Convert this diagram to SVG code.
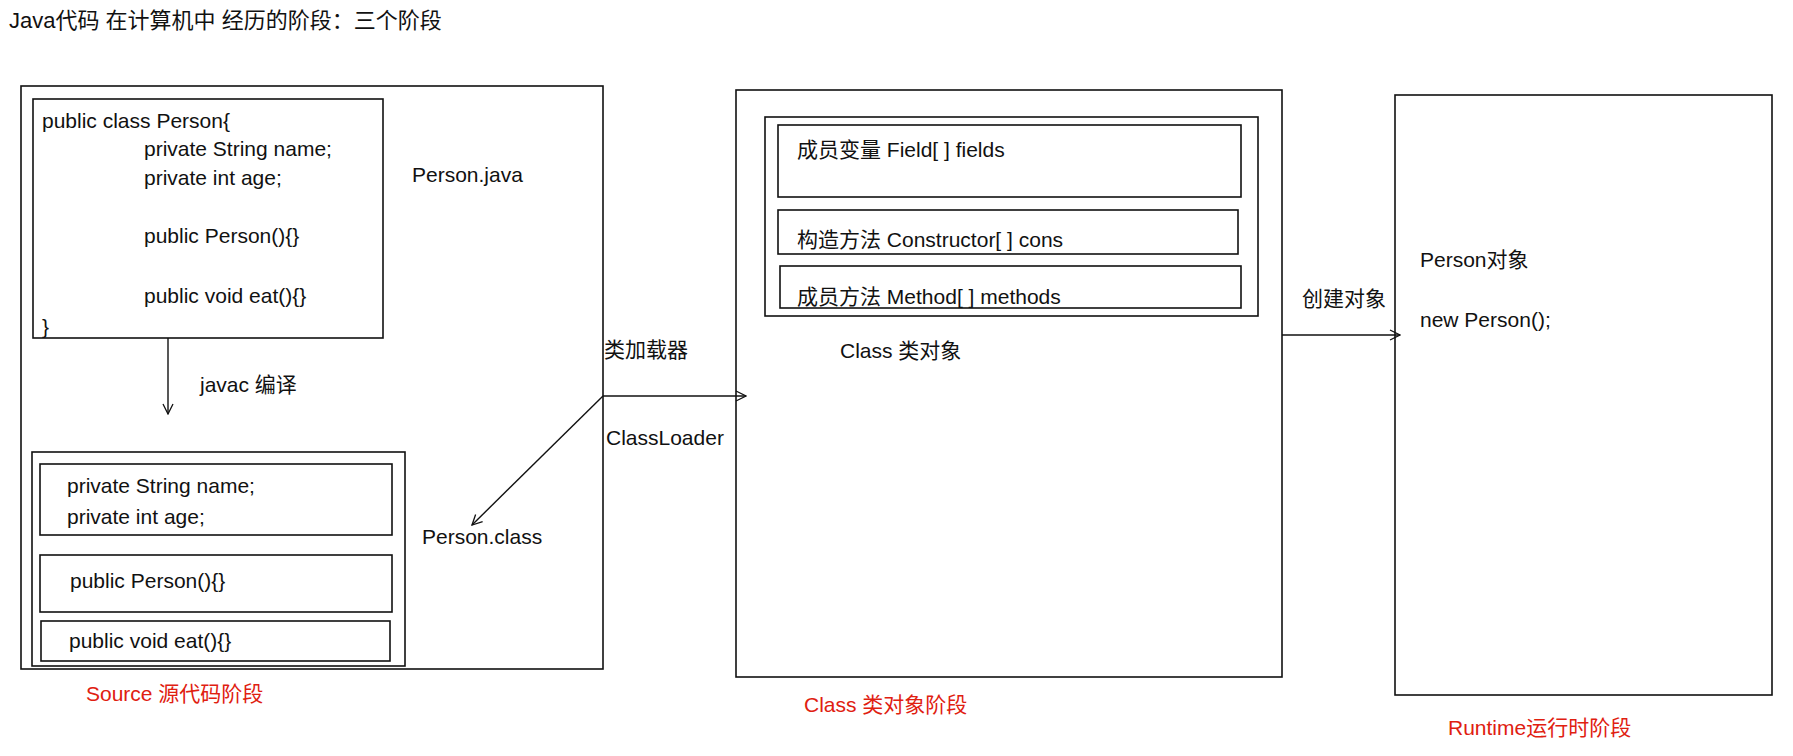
<svg xmlns="http://www.w3.org/2000/svg" width="1793" height="756" viewBox="0 0 1793 756">
<defs>
<style>
text{font-family:"Liberation Sans","Noto Sans CJK SC",sans-serif;font-size:21px;fill:#111}
.red{fill:#e02010}
.box{fill:none;stroke:#111;stroke-width:1.6}
.line{fill:none;stroke:#111;stroke-width:1.4}
</style>
<marker id="open" viewBox="0 0 12 12" refX="11" refY="6" markerWidth="12" markerHeight="12" markerUnits="userSpaceOnUse" orient="auto">
<path d="M1,1 L11,6 L1,11" fill="none" stroke="#111" stroke-width="1.3"/>
</marker>
</defs>
<rect width="1793" height="756" fill="#fff"/>
<text x="9" y="28" style="font-size:22px">Java代码 在计算机中 经历的阶段：三个阶段</text>

<g id="source">
<rect class="box" x="21" y="86" width="582" height="583"/>
<text class="red" x="86" y="701">Source 源代码阶段</text>
</g>
<g id="person-java">
<rect class="box" x="33" y="99" width="350" height="239"/>
<text x="42" y="128">public class Person{</text>
<text x="144" y="156">private String name;</text>
<text x="144" y="185">private int age;</text>
<text x="144" y="243">public Person(){}</text>
<text x="144" y="303">public void eat(){}</text>
<text x="42" y="334">}</text>
<text x="412" y="182">Person.java</text>
</g>
<g id="person-class">
<rect class="box" x="32" y="452" width="373" height="214"/>
<rect class="box" x="40" y="464" width="352" height="71"/>
<text x="67" y="493">private String name;</text>
<text x="67" y="524">private int age;</text>
<rect class="box" x="40" y="555" width="352" height="57"/>
<text x="70" y="588">public Person(){}</text>
<rect class="box" x="41" y="621" width="349" height="40"/>
<text x="69" y="648">public void eat(){}</text>
<text x="422" y="544">Person.class</text>
</g>
<g id="class-stage">
<rect class="box" x="736" y="90" width="546" height="587"/>
<rect class="box" x="765" y="117" width="493" height="199"/>
<rect class="box" x="778" y="125" width="463" height="72"/>
<text x="797" y="157">成员变量  Field[ ] fields</text>
<rect class="box" x="778" y="210" width="460" height="44"/>
<text x="797" y="247">构造方法  Constructor[ ] cons</text>
<rect class="box" x="780" y="266" width="461" height="42"/>
<text x="797" y="304">成员方法 Method[ ] methods</text>
<text x="840" y="358">Class 类对象</text>
<text class="red" x="804" y="712">Class 类对象阶段</text>
</g>
<g id="runtime">
<rect class="box" x="1395" y="95" width="377" height="600"/>
<text x="1420" y="267">Person对象</text>
<text x="1420" y="327">new Person();</text>
<text class="red" x="1448" y="735">Runtime运行时阶段</text>
</g>
<g id="connectors">
<line class="line" x1="168" y1="338" x2="168" y2="414" marker-end="url(#open)"/>
<text x="200" y="392">javac 编译</text>
<line class="line" x1="603" y1="396" x2="746" y2="396" marker-end="url(#open)"/>
<line class="line" x1="603" y1="396" x2="472" y2="525" marker-end="url(#open)"/>
<text x="604" y="357">类加载器</text>
<text x="606" y="445">ClassLoader</text>
<line class="line" x1="1282" y1="335" x2="1400" y2="335" marker-end="url(#open)"/>
<text x="1302" y="306">创建对象</text>
</g>
</svg>
